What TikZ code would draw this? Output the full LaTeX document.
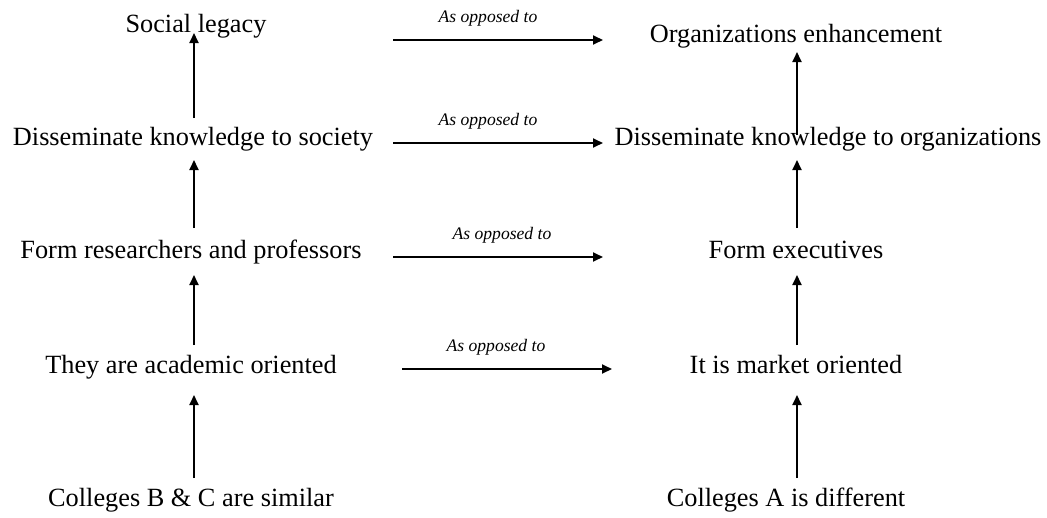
\documentclass[tikz,border=0pt]{standalone}
\usepackage{fontspec}
\setmainfont{Liberation Serif}
\usetikzlibrary{arrows.meta}
\tikzset{txt/.style={font=\fontsize{26.3}{30}\selectfont, inner sep=0pt, outer sep=0pt, text height=18pt, text depth=6pt, anchor=base},
  opp/.style={font=\fontsize{17.6}{20}\selectfont\itshape, inner sep=0pt, anchor=base},
  arr/.style={line width=1.8pt, -{Triangle[length=10pt,width=9pt]}}}

\begin{document}
\begin{tikzpicture}[x=1pt,y=-1pt]
\useasboundingbox (0,0) rectangle (1047,517);
\coordinate (colL) at (194,0);
\coordinate (colR) at (797,0);

% left column
\node[txt] (social) at (196,32) {Social legacy};
\node[txt] (ldiss) at (193,145) {Disseminate knowledge to society};
\node[txt] (lform) at (191,258) {Form researchers and professors};
\node[txt] (lorient) at (191,373) {They are academic oriented};
\node[txt] (lcoll) at (191,506) {Colleges B \& C are similar};

% right column
\node[txt] (orgs) at (796,42) {Organizations enhancement};
\node[txt] (rdiss) at (828,145) {Disseminate knowledge to organizations};
\node[txt] (rform) at (796,258) {Form executives};
\node[txt] (rorient) at (796,373) {It is market oriented};
\node[txt] (rcoll) at (786,506) {Colleges A is different};

\foreach \a/\b/\s/\t in {ldiss/social/9/-5, lform/ldiss/12/9, lorient/lform/10/11, lcoll/lorient/10/16}
{
    \draw[arr, shorten <=\s pt, shorten >=\t pt] (\a.north -| colL) -- (\b.south -| colL);
};
\foreach \a/\b/\s/\t in {rdiss/orgs/-8/4, rform/rdiss/12/9, rorient/rform/10/11, rcoll/rorient/10/16}
{
    \draw[arr, shorten <=\s pt, shorten >=\t pt] (\a.north -| colR) -- (\b.south -| colR);
};

% as opposed to
\foreach \n/\y/\xa/\xb/\lx in {1/40/393/603/488, 2/143/393/603/488, 3/257/393/603/502, 4/369/402/612/496}
{
    \coordinate (h\n a) at (\xa,\y);
    \coordinate (h\n b) at (\xb,\y);
    \draw[arr] (h\n a) -- (h\n b);
    \node[opp] (lab\n) at (\lx,\y-18) {As opposed to};
};
\end{tikzpicture}
\end{document}
